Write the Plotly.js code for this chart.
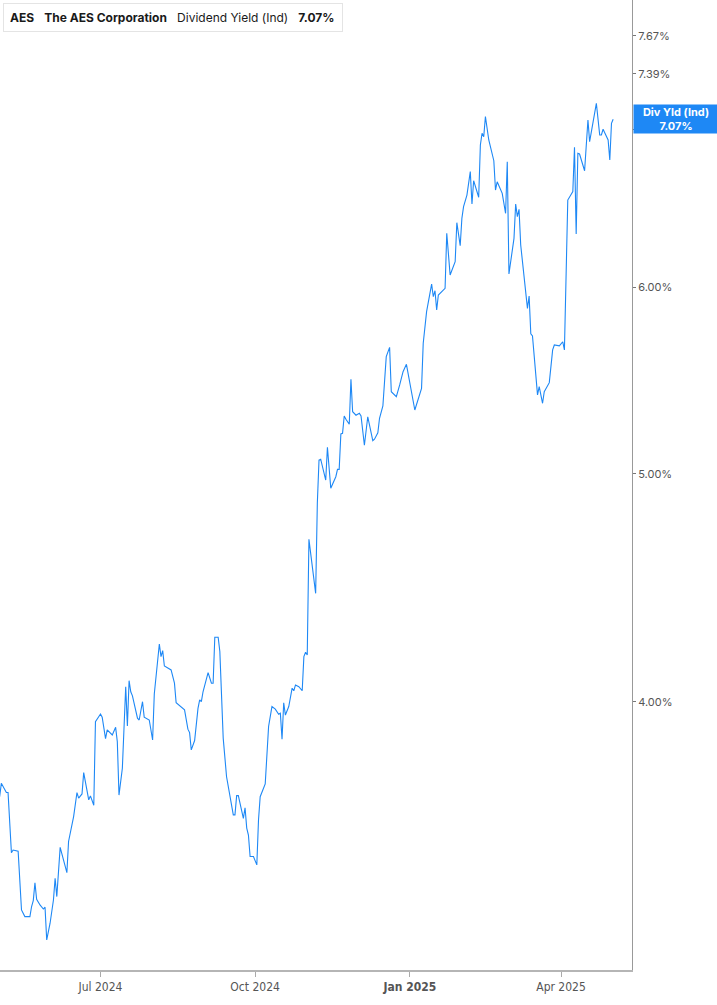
<!DOCTYPE html>
<html>
<head>
<meta charset="utf-8">
<script src="https://cdn.plot.ly/plotly-3.0.1.min.js"></script>
<style>
  html, body { margin: 0; padding: 0; background: #fff; }
  #chart { width: 717px; height: 1005px; }
</style>
</head>
<body>
<div id="chart"></div>
<script>
"use strict";
// AES - dividend yield (indicated), daily, May 2024 -> May 2025

var dates=[
	'2024-05-02','2024-05-03','2024-05-06','2024-05-07','2024-05-09','2024-05-10','2024-05-13','2024-05-15','2024-05-17','2024-05-20',
	'2024-05-21','2024-05-22','2024-05-23','2024-05-24','2024-05-26','2024-05-28','2024-05-29','2024-05-30','2024-06-01','2024-06-03',
	'2024-06-04','2024-06-05','2024-06-07','2024-06-11','2024-06-12','2024-06-13','2024-06-15','2024-06-17','2024-06-18','2024-06-20',
	'2024-06-21','2024-06-24','2024-06-25','2024-06-27','2024-06-28','2024-07-01','2024-07-02','2024-07-04','2024-07-05','2024-07-08',
	'2024-07-10','2024-07-11','2024-07-12','2024-07-14','2024-07-16','2024-07-17','2024-07-18','2024-07-19','2024-07-20','2024-07-23',
	'2024-07-24','2024-07-26','2024-07-27','2024-07-30','2024-08-01','2024-08-02','2024-08-05','2024-08-06','2024-08-07','2024-08-08',
	'2024-08-12','2024-08-14','2024-08-15','2024-08-20','2024-08-22','2024-08-23','2024-08-24','2024-08-26','2024-08-28','2024-08-29',
	'2024-08-30','2024-08-31','2024-09-03','2024-09-05','2024-09-06','2024-09-07','2024-09-09','2024-09-10','2024-09-12','2024-09-14',
	'2024-09-18','2024-09-19','2024-09-20','2024-09-21','2024-09-24','2024-09-25','2024-09-26','2024-09-27','2024-09-28','2024-09-30',
	'2024-10-02','2024-10-03','2024-10-04','2024-10-07','2024-10-09','2024-10-11','2024-10-13','2024-10-15','2024-10-16','2024-10-17',
	'2024-10-18','2024-10-19','2024-10-21','2024-10-23','2024-10-24','2024-10-25','2024-10-27','2024-10-29','2024-10-30','2024-10-31',
	'2024-11-01','2024-11-02','2024-11-06','2024-11-07','2024-11-08','2024-11-09','2024-11-12','2024-11-13','2024-11-15','2024-11-18',
	'2024-11-19','2024-11-20','2024-11-21','2024-11-22','2024-11-23','2024-11-24','2024-11-26','2024-11-27','2024-11-28','2024-11-30',
	'2024-12-02','2024-12-03','2024-12-05','2024-12-07','2024-12-10','2024-12-11','2024-12-13','2024-12-14','2024-12-16','2024-12-18',
	'2024-12-20','2024-12-21','2024-12-24','2024-12-26','2024-12-28','2024-12-30','2025-01-01','2025-01-02','2025-01-04','2025-01-08',
	'2025-01-09','2025-01-11','2025-01-13','2025-01-14','2025-01-15','2025-01-16','2025-01-17','2025-01-18','2025-01-22','2025-01-23',
	'2025-01-25','2025-01-28','2025-01-29','2025-01-31','2025-02-01','2025-02-02','2025-02-04','2025-02-06','2025-02-07','2025-02-08',
	'2025-02-11','2025-02-12','2025-02-13','2025-02-14','2025-02-15','2025-02-17','2025-02-20','2025-02-21','2025-02-22','2025-02-24',
	'2025-02-25','2025-02-27','2025-02-28','2025-03-01','2025-03-04','2025-03-05','2025-03-06','2025-03-07','2025-03-08','2025-03-12',
	'2025-03-13','2025-03-14','2025-03-15','2025-03-18','2025-03-19','2025-03-21','2025-03-22','2025-03-25','2025-03-27','2025-03-28',
	'2025-03-31','2025-04-02','2025-04-03','2025-04-05','2025-04-08','2025-04-09','2025-04-10','2025-04-11','2025-04-12','2025-04-15',
	'2025-04-17','2025-04-18','2025-04-20','2025-04-22','2025-04-24','2025-04-25','2025-04-26','2025-04-29','2025-04-30','2025-05-01',
	'2025-05-02'
];

var divYield=[ // percent
	3.646,3.694,3.661,3.661,3.452,3.461,3.457,3.264,3.243,3.243,
	3.275,3.294,3.352,3.298,3.280,3.267,3.273,3.170,3.222,3.296,
	3.367,3.307,3.470,3.385,3.490,3.523,3.576,3.661,3.641,3.656,
	3.733,3.635,3.649,3.616,3.924,3.953,3.941,3.859,3.892,3.873,
	3.902,3.848,3.652,3.749,4.060,3.907,4.084,4.040,4.024,3.937,
	3.930,4.001,3.941,3.930,3.854,4.031,4.233,4.181,4.206,4.143,
	4.127,4.074,3.997,3.969,3.895,3.882,3.817,3.852,3.975,4.008,
	4.001,4.040,4.116,4.074,4.074,4.261,4.261,4.202,3.861,3.718,
	3.582,3.582,3.650,3.650,3.570,3.607,3.536,3.512,3.439,3.439,
	3.411,3.564,3.646,3.692,3.905,3.982,3.972,3.952,3.956,3.857,
	3.997,3.949,3.982,4.054,4.044,4.067,4.060,4.044,4.181,4.199,
	4.188,4.689,4.448,4.857,5.067,5.071,4.969,5.131,4.929,4.985,
	5.021,5.021,5.198,5.201,5.290,5.273,5.247,5.483,5.312,5.294,
	5.304,5.290,5.141,5.286,5.164,5.171,5.204,5.278,5.342,5.606,
	5.657,5.417,5.391,5.453,5.524,5.564,5.462,5.409,5.321,5.435,
	5.680,5.858,5.983,6.018,5.944,5.979,5.868,5.954,5.993,6.324,
	6.072,6.151,6.390,6.248,6.417,6.491,6.565,6.717,6.508,6.658,
	6.551,6.894,6.974,6.950,7.088,6.928,6.789,6.597,6.651,6.602,
	6.576,6.449,6.782,6.078,6.293,6.508,6.428,6.474,6.252,5.877,
	5.948,5.732,5.720,5.400,5.444,5.356,5.417,5.465,5.643,5.670,
	5.665,5.688,5.643,6.533,6.587,6.879,6.320,6.839,6.834,6.723,
	7.065,6.917,7.053,7.181,6.962,6.962,7.001,6.928,6.794,7.042,
	7.07
];

var xTickVals=['2024-07-01','2024-10-01','2025-01-01','2025-04-01'];
var xTickText=['Jul 2024','Oct 2024','<b>Jan 2025</b>','Apr 2025'];
var yTickVals=[4,5,6,7,7.39,7.67];
var yTickText=['4.00%','5.00%','6.00%','7.00%','7.39%','7.67%'];

var ticker='AES', company='The AES Corporation', metric='Dividend Yield (Ind)', metricShort='Div Yld (Ind)';

var BLUE='#1e88f5';
var lastVal=divYield[divYield.length-1];
var lastTxt=lastVal.toFixed(2)+'%';

var trace={
	x: dates,
	y: divYield,
	type: 'scatter',
	mode: 'lines',
	line: {color: BLUE, width: 1.1},
	hoverinfo: 'skip',
	showlegend: false
};

var gap='&nbsp;&nbsp;&nbsp;';
var legendTxt='<b>'+ticker+'</b>'+gap+'<b>'+company+'</b>'+gap+metric+gap+'<b>'+lastTxt+'</b>';

var layout={
	width: 717,
	height: 1005,
	margin: {l: 0, r: 85, t: 0, b: 35},
	paper_bgcolor: '#ffffff',
	plot_bgcolor: '#ffffff',
	font: {family: 'Inter, "Noto Sans", sans-serif', size: 11, color: '#555'},
	xaxis: {
		type: 'date',
		range: ['2024-05-02 05:00', '2025-05-13 05:00'],
		tickmode: 'array',
		tickvals: xTickVals,
		ticktext: xTickText,
		ticks: 'outside',
		ticklen: 5,
		tickcolor: '#aaa',
		showline: true,
		linecolor: '#b5b5b5',
		linewidth: 2,
		showgrid: false,
		zeroline: false,
		fixedrange: true,
		tickfont: {family: '"Liberation Sans Narrow", "DejaVu Sans Condensed", Inter, sans-serif', size: 12, color: '#555'}
	},
	yaxis: {
		type: 'log',
		side: 'right',
		range: [Math.log10(3.078), Math.log10(7.944)],
		tickmode: 'array',
		tickvals: yTickVals,
		ticktext: yTickText,
		ticks: 'outside',
		ticklen: 3,
		tickcolor: '#777',
		showline: true,
		linecolor: '#999',
		linewidth: 1,
		showgrid: false,
		zeroline: false,
		fixedrange: true,
		tickfont: {size: 11, color: '#555'}
	},
	shapes: [
		{ // blue accent bar on the legend box
			type: 'rect', xref: 'paper', yref: 'paper',
			x0: 3/632, x1: 6/632, y0: 1-30/970, y1: 1-3/970,
			fillcolor: BLUE, line: {width: 0}, layer: 'above'
		}
	],
	annotations: [
		{
			xref: 'paper', yref: 'paper', x: 0, y: 1,
			xanchor: 'left', yanchor: 'top', xshift: 3, yshift: -3,
			text: legendTxt,
			showarrow: false,
			align: 'left',
			font: {family: 'Inter, sans-serif', size: 12, color: '#1a1a1a'},
			bgcolor: '#ffffff',
			bordercolor: '#e4e4e4',
			borderwidth: 1,
			borderpad: 6,
			width: 326
		},
		{
			xref: 'paper', yref: 'y', x: 1, y: Math.log10(lastVal),
			xanchor: 'left', yanchor: 'middle', xshift: 1,
			text: '<b>'+metricShort+'</b><br><b>'+lastTxt+'</b>',
			showarrow: false,
			align: 'center',
			font: {family: 'Inter, sans-serif', size: 11, color: '#ffffff'},
			bgcolor: BLUE,
			borderpad: 1,
			width: 82,
			height: 26
		}
	]
};

Plotly.newPlot('chart', [trace], layout, {displayModeBar: false, staticPlot: true});
</script>
</body>
</html>
